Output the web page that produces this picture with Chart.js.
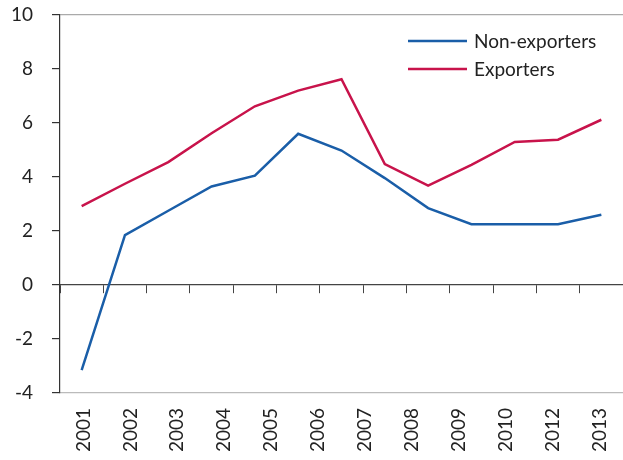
<!DOCTYPE html>
<html>
<head>
<meta charset="utf-8">
<script src="https://cdn.jsdelivr.net/npm/chart.js@4/dist/chart.umd.min.js"></script>
<style>
    html, body { margin: 0; padding: 0; background: #fff; }
    #wrap { width: 623px; height: 460px; }
</style>
</head>
<body>
<div id="wrap"><canvas id="chart"></canvas></div>
<script>
// 13 data points, but the original axis only shows 12 labels (no 2011)
const categories = ['2001', '2002', '2003', '2004', '2005', '2006', '2007', '2008', '2009', '2010', '2011', '2012', '2013'];
const tickLabels = ['2001', '2002', '2003', '2004', '2005', '2006', '2007', '2008', '2009', '2010', '2012', '2013'];
const nonExporters = [-3.15, 1.85, 2.75, 3.65, 4.05, 5.6, 4.98, 3.96, 2.85, 2.25, 2.25, 2.25, 2.6];
const exporters = [2.92, 3.75, 4.55, 5.62, 6.62, 7.2, 7.62, 4.48, 3.68, 4.45, 5.3, 5.38, 6.12];
const yTicks = [-4, -2, 0, 2, 4, 6, 8, 10];

const fontFamily = 'Lato';
const textColor = '#222';

// legend drawn inside the plot, top right
const insideLegend = {
    id: 'insideLegend',
    afterDraw(chart) {
        const ctx = chart.ctx;
        ctx.save();
        ctx.font = '19px ' + fontFamily;
        ctx.textBaseline = 'middle';
        chart.data.datasets.forEach((ds, i) => {
            const y = 41 + i * 28;
            ctx.strokeStyle = ds.borderColor;
            ctx.lineWidth = 2.5;
            ctx.beginPath();
            ctx.moveTo(408, y);
            ctx.lineTo(467, y);
            ctx.stroke();
            ctx.fillStyle = textColor;
            ctx.fillText(ds.label, 474, y + 1);
        });
        ctx.restore();
    }
};

new Chart(document.getElementById('chart'), {
    type: 'line',
    data: {
        labels: categories,
        datasets: [{
            label: 'Non-exporters',
            data: nonExporters,
            borderColor: '#1a5ea8',
            borderWidth: 2.5,
            pointRadius: 0,
            tension: 0
        }, {
            label: 'Exporters',
            data: exporters,
            borderColor: '#c8134b',
            borderWidth: 2.5,
            pointRadius: 0,
            tension: 0
        }]
    },
    options: {
        responsive: true,
        maintainAspectRatio: false,
        animation: false,
        layout: {
            padding: { top: 15, bottom: 0, left: 0, right: 0 }
        },
        plugins: {
            legend: { display: false },
            tooltip: { enabled: false }
        },
        scales: {
            x: {
                type: 'category',
                offset: true,
                position: { y: 0 }, // axis line sits on the zero line
                grid: {
                    offset: true,
                    drawOnChartArea: false,
                    drawTicks: true,
                    tickLength: 8,
                    tickColor: '#444'
                },
                border: { color: '#444', width: 1.2 },
                ticks: { display: false }
            },
            x2: {
                type: 'category',
                labels: tickLabels,
                offset: true,
                position: 'bottom',
                afterFit: scale => {
                    scale.height = 67;
                    scale.paddingLeft = 0;
                    scale.paddingRight = 0;
                },
                grid: { display: false, drawTicks: false },
                border: { color: '#bbb', width: 1.2 },
                ticks: {
                    autoSkip: false,
                    maxRotation: 90,
                    minRotation: 90,
                    padding: 15,
                    color: textColor,
                    font: { family: fontFamily, size: 19 }
                }
            },
            y: {
                min: -4,
                max: 10,
                afterBuildTicks: scale => {
                    scale.ticks = yTicks.map(v => ({ value: v }));
                },
                afterFit: scale => {
                    scale.width = 60;
                    scale.paddingTop = 0;
                    scale.paddingBottom = 0;
                },
                grid: {
                    color: ctx => (ctx.tick && ctx.tick.value === 10) ? '#aaa' : 'rgba(0,0,0,0)',
                    lineWidth: 1.2,
                    tickLength: 8,
                    tickColor: '#333'
                },
                border: { color: '#333', width: 1.2 },
                ticks: {
                    padding: 19,
                    color: textColor,
                    font: { family: fontFamily, size: 19 }
                }
            }
        }
    },
    plugins: [insideLegend]
});
</script>
</body>
</html>
